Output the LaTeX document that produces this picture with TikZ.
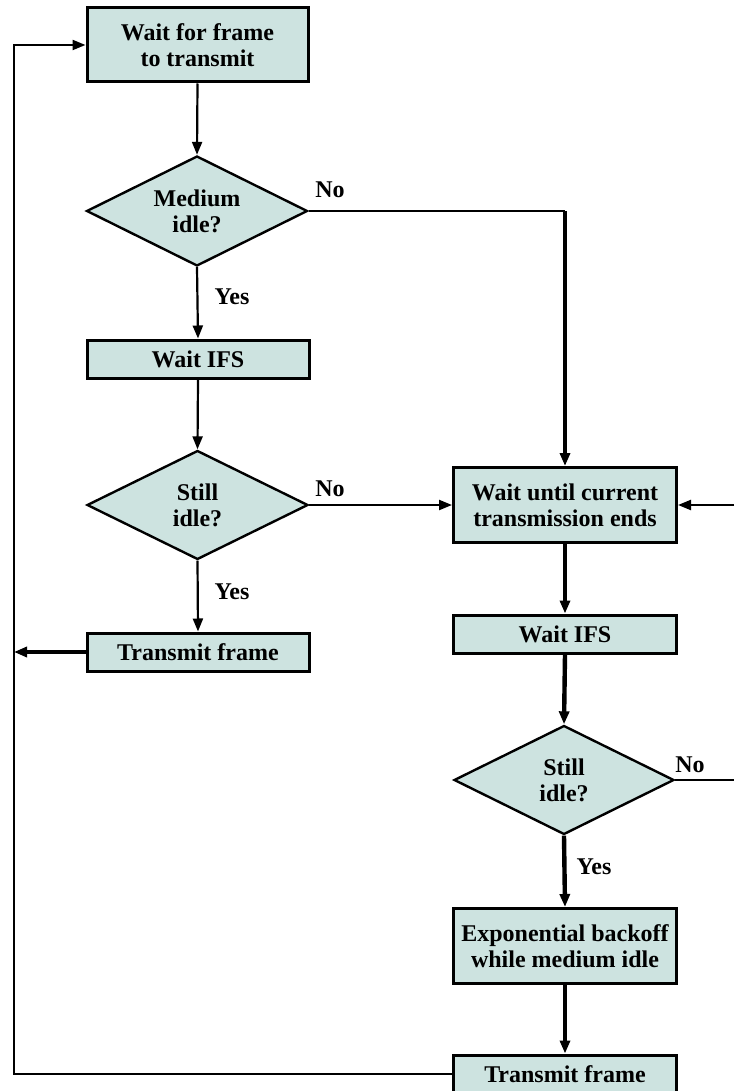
\documentclass[tikz,border=0pt]{standalone}
\usepackage{fontspec}
\setmainfont{Liberation Serif}
\usetikzlibrary{shapes.geometric,arrows.meta}
\definecolor{boxfill}{RGB}{205,227,224}
\begin{document}
\begin{tikzpicture}[x=0.5pt,y=-0.5pt,
  txt/.style={font=\bfseries\fontsize{12}{13}\selectfont},
  box/.style={txt, draw=black, line width=1.5pt, fill=boxfill, inner sep=0pt, align=center},
  dec/.style={txt, diamond, aspect=2, draw=black, line width=1.2pt, fill=boxfill, inner sep=0pt, align=center},
  lab/.style={txt, inner sep=0pt},
  ln/.style={line width=1.1pt},
  lnb/.style={line width=2.2pt},
  arr/.style={-{Triangle[length=6.5pt,width=5pt]}}
]
\useasboundingbox (0,0) rectangle (734,1091);
% left column
\node[box, minimum width=110.5pt, minimum height=37pt] (b1) at (197.5,45) {Wait for frame\\to transmit};
\node[dec, minimum width=110.5pt, minimum height=55pt] (d1) at (197,211) {Medium\\idle?};
\node[box, minimum width=111pt, minimum height=19pt] (b2) at (198,359) {Wait IFS};
\node[dec, minimum width=110.5pt, minimum height=54.5pt] (d2) at (197.5,505) {Still\\idle?};
\node[box, minimum width=111pt, minimum height=19pt] (b3) at (198,652) {Transmit frame};
% right column
\node[box, minimum width=111.5pt, minimum height=37.5pt] (r1) at (565,505) {Wait until current\\transmission ends};
\node[box, minimum width=111.5pt, minimum height=19pt] (r2) at (565,634) {Wait IFS};
\node[dec, minimum width=110pt, minimum height=54.5pt] (d3) at (564,780) {Still\\idle?};
\node[box, minimum width=111.5pt, minimum height=37.5pt] (r3) at (565,946) {Exponential backoff\\while medium idle};
\node[box, minimum width=111.5pt, minimum height=19pt] (r4) at (565,1074) {Transmit frame};
% helper coordinates
\coordinate (c1) at (565,211);
\coordinate (L) at (14,652);
\coordinate (LB) at (14,1074);
\coordinate (LT) at (14,45);
\coordinate (RE) at (734,505);
\coordinate (RD) at (734,780);
% connectors left
\draw[ln,arr] (b1.south) -- (d1.north);
\draw[ln,arr] (d1.south) -- (b2.north);
\draw[ln,arr] (b2.south) -- (d2.north);
\draw[ln,arr] (d2.south) -- (b3.north);
\draw[lnb,arr] (b3.west) -- (L);
\draw[ln] (d1.east) -- (c1);
\draw[lnb,arr] (c1) -- (r1.north);
\draw[ln,arr] (d2.east) -- (r1.west);
% connectors right
\draw[lnb,arr] (r1.south) -- (r2.north);
\draw[lnb,arr] (r2.south) -- (d3.north);
\draw[lnb,arr] (d3.south) -- (r3.north);
\draw[lnb,arr] (r3.south) -- (r4.north);
\draw[ln] (d3.east) -- (RD);
\draw[ln,arr] (RE) -- (r1.east);
\draw[ln,arr] (r4.west) -- (LB) -- (LT) -- (b1.west);
% labels
\node[lab] (no1) at (330,190) {No};
\node[lab] (yes1) at (232,297) {Yes};
\node[lab] (no2) at (330,489) {No};
\node[lab] (yes2) at (232,592) {Yes};
\node[lab] (no3) at (690,765) {No};
\node[lab] (yes3) at (594,867) {Yes};
\end{tikzpicture}
\end{document}
